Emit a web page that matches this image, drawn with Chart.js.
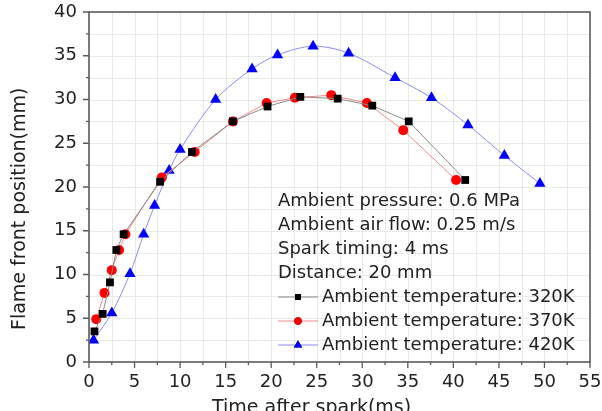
<!DOCTYPE html>
<html lang="en">
<head>
    <meta charset="UTF-8">
    <title>Flame front position</title>
    <script src="https://cdn.jsdelivr.net/npm/chart.js"></script>
    <style>
        html, body { margin: 0; padding: 0; background: #fff; }
        #wrap { width: 602px; height: 411px; }
    </style>
</head>
<body>
    <div id="wrap"><canvas id="flameChart"></canvas></div>

    <script>
        // values
        const t320 = [0.6, 1.5, 2.3, 3.0, 3.8, 7.8, 11.3, 15.8, 19.6, 23.2, 27.3, 31.1, 35.1, 41.3];
        const y320 = [3.5, 5.5, 9.1, 12.8, 14.6, 20.6, 24.0, 27.5, 29.2, 30.3, 30.1, 29.3, 27.5, 20.8];

        const t370 = [0.8, 1.7, 2.5, 3.3, 4.0, 8.0, 11.6, 15.8, 19.5, 22.6, 26.6, 30.5, 34.5, 40.3];
        const y370 = [4.9, 7.9, 10.5, 12.8, 14.6, 21.1, 24.0, 27.5, 29.6, 30.2, 30.5, 29.6, 26.5, 20.8];

        const t420 = [0.5, 2.5, 4.5, 6.0, 7.2, 8.8, 10.0, 13.9, 17.9, 20.7, 24.6, 28.5, 33.6, 37.6, 41.6, 45.6, 49.5];
        const y420 = [2.5, 5.6, 10.1, 14.6, 17.9, 21.9, 24.3, 30.0, 33.5, 35.1, 36.1, 35.3, 32.5, 30.2, 27.1, 23.6, 20.4];

        const seriesLabels = ['Ambient temperature: 320K', 'Ambient temperature: 370K', 'Ambient temperature: 420K'];
        const infoLines = ['Ambient pressure: 0.6 MPa', 'Ambient air flow: 0.25 m/s', 'Spark timing: 4 ms', 'Distance: 20 mm'];

        const xTicks = [0, 5, 10, 15, 20, 25, 30, 35, 40, 45, 50, 55];
        const yTicks = [0, 5, 10, 15, 20, 25, 30, 35, 40];

        const FONT = 'DejaVu Sans';
        const pts = (xs, ys) => xs.map((x, i) => ({ x: x, y: ys[i] }));

        // faint grid every 2.5 units, under the data
        const grid = {
            id: 'grid',
            beforeDatasetsDraw(chart) {
                const ctx = chart.ctx;
                const area = chart.chartArea;
                const xs = chart.scales.x;
                const ys = chart.scales.y;
                ctx.save();
                ctx.strokeStyle = '#e4ece4';
                ctx.lineWidth = 1;
                ctx.beginPath();
                for (let v = 2.5; v < 55; v += 2.5) {
                    const px = Math.round(xs.getPixelForValue(v)) + 0.5;
                    ctx.moveTo(px, area.top);
                    ctx.lineTo(px, area.bottom);
                }
                for (let v = 2.5; v < 40; v += 2.5) {
                    const py = Math.round(ys.getPixelForValue(v)) + 0.5;
                    ctx.moveTo(area.left, py);
                    ctx.lineTo(area.right, py);
                }
                ctx.stroke();
                ctx.restore();
            }
        };

        // frame, ticks, tick labels, axis titles and the text block
        const decorations = {
            id: 'decorations',
            afterDraw(chart) {
                const ctx = chart.ctx;
                const area = chart.chartArea;
                const xs = chart.scales.x;
                const ys = chart.scales.y;
                ctx.save();

                ctx.strokeStyle = '#5a5a5a';
                ctx.lineWidth = 1.6;
                ctx.strokeRect(area.left, area.top, area.right - area.left, area.bottom - area.top);

                ctx.lineWidth = 1.3;
                ctx.beginPath();
                for (let v = 0; v <= 55; v += 2.5) {
                    const px = xs.getPixelForValue(v);
                    const len = v % 5 === 0 ? 6 : 3;
                    ctx.moveTo(px, area.bottom);
                    ctx.lineTo(px, area.bottom + len);
                }
                for (let v = 0; v <= 40; v += 2.5) {
                    const py = ys.getPixelForValue(v);
                    const len = v % 5 === 0 ? 6 : 3;
                    ctx.moveTo(area.left, py);
                    ctx.lineTo(area.left - len, py);
                }
                ctx.stroke();

                ctx.fillStyle = '#222';
                ctx.font = '18px "' + FONT + '"';
                ctx.textAlign = 'center';
                ctx.textBaseline = 'middle';
                xTicks.forEach(v => ctx.fillText(String(v), xs.getPixelForValue(v), area.bottom + 20));
                ctx.textAlign = 'right';
                yTicks.forEach(v => ctx.fillText(String(v), area.left - 12, ys.getPixelForValue(v)));

                ctx.font = '19px "' + FONT + '"';
                ctx.textBaseline = 'alphabetic';
                ctx.textAlign = 'left';
                ctx.fillText('Time after spark(ms)', 212, 413);

                ctx.save();
                ctx.translate(25, 330);
                ctx.rotate(-Math.PI / 2);
                ctx.fillText('Flame front position(mm)', 0, 0);
                ctx.restore();

                // text block + legend inside the plot
                ctx.font = '18px "' + FONT + '"';
                ctx.textBaseline = 'middle';
                let y = 201;
                infoLines.forEach(line => {
                    ctx.fillText(line, 278, y);
                    y += 24;
                });
                chart.data.datasets.forEach(ds => {
                    ctx.strokeStyle = ds.borderColor;
                    ctx.lineWidth = 1;
                    ctx.beginPath();
                    ctx.moveTo(278, y);
                    ctx.lineTo(318, y);
                    ctx.stroke();
                    Chart.helpers.drawPoint(ctx, {
                        pointStyle: ds.pointStyle,
                        radius: ds.pointRadius * 0.75,
                        rotation: 0,
                        borderWidth: 0
                    }, 298, y);
                    ctx.fillStyle = ds.pointBackgroundColor;
                    ctx.fill();
                    ctx.fillStyle = '#222';
                    ctx.fillText(ds.label, 322, y);
                    y += 24;
                });
                ctx.restore();
            }
        };

        new Chart(document.getElementById('flameChart'), {
            type: 'line',
            data: {
                datasets: [{
                    label: seriesLabels[0],
                    data: pts(t320, y320),
                    borderColor: '#8a8a8a',
                    borderWidth: 1,
                    pointStyle: 'rect',
                    pointRadius: 5.5,
                    pointBackgroundColor: '#000',
                    pointBorderWidth: 0,
                    tension: 0
                }, {
                    label: seriesLabels[1],
                    data: pts(t370, y370),
                    borderColor: '#f08a8a',
                    borderWidth: 1,
                    pointStyle: 'circle',
                    pointRadius: 5,
                    pointBackgroundColor: '#ff0000',
                    pointBorderWidth: 0,
                    tension: 0
                }, {
                    label: seriesLabels[2],
                    data: pts(t420, y420),
                    borderColor: '#8c8cf5',
                    borderWidth: 1,
                    pointStyle: 'triangle',
                    pointRadius: 6.5,
                    pointBackgroundColor: '#0000ff',
                    pointBorderWidth: 0,
                    tension: 0.3
                }]
            },
            options: {
                responsive: true,
                maintainAspectRatio: false,
                animation: false,
                layout: { padding: { top: 12, right: 12, left: 0, bottom: 0 } },
                plugins: {
                    legend: { display: false },
                    tooltip: { enabled: false }
                },
                scales: {
                    x: {
                        type: 'linear',
                        min: 0,
                        max: 55,
                        afterBuildTicks: s => { s.ticks = xTicks.map(v => ({ value: v })); },
                        afterFit: s => { s.height = 49; s.paddingLeft = 0; s.paddingRight = 0; },
                        grid: { display: false, drawTicks: false },
                        border: { display: false },
                        ticks: { display: false }
                    },
                    y: {
                        type: 'linear',
                        min: 0,
                        max: 40,
                        afterBuildTicks: s => { s.ticks = yTicks.map(v => ({ value: v })); },
                        afterFit: s => { s.width = 89; s.paddingTop = 0; s.paddingBottom = 0; },
                        grid: { display: false, drawTicks: false },
                        border: { display: false },
                        ticks: { display: false }
                    }
                }
            },
            plugins: [grid, decorations]
        });
    </script>
</body>
</html>
